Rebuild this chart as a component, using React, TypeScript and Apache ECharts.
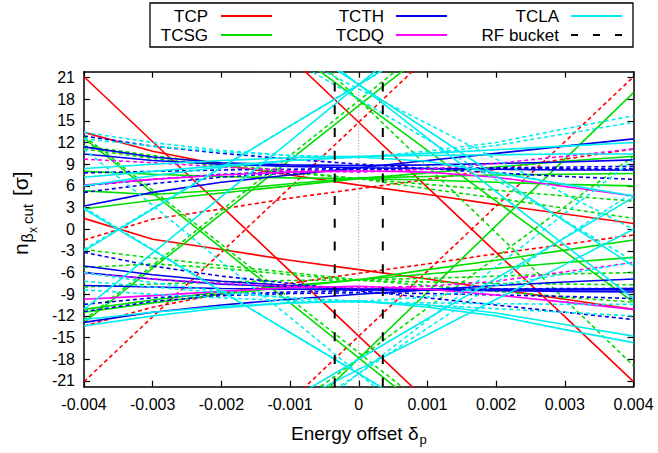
import React, { useEffect, useRef } from "react";
import * as echarts from "echarts";

const FONT = "'Liberation Sans', Arial, Helvetica, sans-serif";

const deltas = [-0.004, -0.003, -0.002, -0.001, 0, 0.001, 0.002, 0.003, 0.004];
const xTicks = [-0.004, -0.003, -0.002, -0.001, 0, 0.001, 0.002, 0.003, 0.004];
const yTicks = [-21, -18, -15, -12, -9, -6, -3, 0, 3, 6, 9, 12, 15, 18, 21];
const yRange = [-21.8, 21.8];
const rfBucket = [-0.00035, 0.00035];

// TCP (red)
const tcpBeam1 = [
  [21.1, 12.1, 3.2, -5.8, -14.8, -23.8, -32.8, -41.7, -50.7],
  [50.7, 41.7, 32.8, 23.8, 14.8, 5.8, -3.2, -12.1, -21.1],
  [13.4, 10.8, 8.9, 7.5, 6.1, 4.8, 3.4, 2.1, 0.8],
  [1.5, -1.4, -2.8, -4.3, -5.6, -6.9, -8.3, -9.7, -11.1],
];
const tcpBeam2 = [
  [-21.1, -12.1, -3.2, 5.8, 14.8, 23.8, 32.8, 41.7, 50.7],
  [-50.7, -41.7, -32.8, -23.8, -14.8, -5.8, 3.2, 12.1, 21.1],
  [-13.4, -10.8, -8.9, -7.5, -6.1, -4.8, -3.4, -2.1, -0.8],
  [-1.5, 1.4, 2.8, 4.3, 5.6, 6.9, 8.3, 9.7, 11.1],
];

// TCSG (green)
const tcsgBeam1 = [
  [12.6, 5.0, -2.6, -10.2, -17.8, -25.4, -33.0, -40.6, -48.2],
  [45.9, 38.9, 31.9, 24.9, 17.9, 10.9, 3.9, -3.1, -10.1],
  [-12.9, -5.4, 2.1, 9.6, 17.1, 24.6, 32.1, 39.6, 47.1],
  [-54.7, -45.5, -36.3, -27.1, -17.9, -8.7, 0.5, 9.7, 18.9],
  [2.8, 4.0, 5.0, 6.0, 7.0, 7.8, 8.6, 9.4, 10.1],
  [5.3, 4.8, 5.4, 6.3, 7.1, 7.3, 7.5, 7.6, 7.7],
  [8.0, 7.6, 7.3, 7.1, 7.0, 6.8, 6.5, 6.2, 6.0],
  [-11.5, -10.2, -9.0, -8.0, -7.0, -5.6, -4.3, -2.9, -1.5],
  [-11.1, -9.8, -8.7, -7.8, -7.0, -6.2, -5.4, -4.6, -3.9],
];
const tcsgBeam2 = [
  [-12.6, -5.0, 2.6, 10.2, 17.8, 25.4, 33.0, 40.6, 48.2],
  [-45.9, -38.9, -31.9, -24.9, -17.9, -10.9, -3.9, 3.1, 10.1],
  [12.9, 5.4, -2.1, -9.6, -17.1, -24.6, -32.1, -39.6, -47.1],
  [54.7, 45.5, 36.3, 27.1, 17.9, 8.7, -0.5, -9.7, -18.9],
  [-2.8, -4.0, -5.0, -6.0, -7.0, -7.8, -8.6, -9.4, -10.1],
  [-5.3, -4.8, -5.4, -6.3, -7.1, -7.3, -7.5, -7.6, -7.7],
  [-8.0, -7.6, -7.3, -7.1, -7.0, -6.8, -6.5, -6.2, -6.0],
  [11.5, 10.2, 9.0, 8.0, 7.0, 5.6, 4.3, 2.9, 1.5],
  [11.1, 9.8, 8.7, 7.8, 7.0, 6.2, 5.4, 4.6, 3.9],
];

// TCTH (blue)
const tcthBeam1 = [
  [3.2, 5.1, 6.5, 7.5, 8.5, 9.5, 10.5, 11.5, 12.5],
  [11.4, 10.0, 9.2, 8.9, 8.8, 8.9, 9.1, 9.3, 9.6],
  [10.4, 9.5, 9.0, 8.7, 8.5, 8.4, 8.3, 8.2, 8.2],
  [-5.1, -6.3, -7.2, -7.8, -8.3, -8.3, -8.4, -8.4, -8.4],
  [-12.9, -11.5, -10.5, -9.7, -9.0, -8.4, -7.8, -7.3, -6.9],
  [-6.0, -6.9, -7.6, -8.0, -8.3, -8.4, -8.5, -8.6, -8.7],
  [-7.8, -8.0, -8.2, -8.3, -8.4, -8.4, -8.3, -8.3, -8.2],
];
const tcthBeam2 = [
  [-3.2, -5.1, -6.5, -7.5, -8.5, -9.5, -10.5, -11.5, -12.5],
  [-11.4, -10.0, -9.2, -8.9, -8.8, -8.9, -9.1, -9.3, -9.6],
  [-10.4, -9.5, -9.0, -8.7, -8.5, -8.4, -8.3, -8.2, -8.2],
  [5.1, 6.3, 7.2, 7.8, 8.3, 8.3, 8.4, 8.4, 8.4],
  [12.9, 11.5, 10.5, 9.7, 9.0, 8.4, 7.8, 7.3, 6.9],
  [6.0, 6.9, 7.6, 8.0, 8.3, 8.4, 8.5, 8.6, 8.7],
  [7.8, 8.0, 8.2, 8.3, 8.4, 8.4, 8.3, 8.3, 8.2],
];

// TCDQ (magenta)
const tcdqBeam1 = [
  [6.1, 6.9, 7.5, 7.9, 8.1, 7.9, 7.2, 5.9, 4.6],
  [-9.7, -9.2, -8.6, -8.1, -7.9, -8.3, -9.1, -10.1, -11.1],
];
const tcdqBeam2 = [
  [-6.1, -6.9, -7.5, -7.9, -8.1, -7.9, -7.2, -5.9, -4.6],
  [9.7, 9.2, 8.6, 8.1, 7.9, 8.3, 9.1, 10.1, 11.1],
];

// TCLA (cyan)
const tclaBeam1 = [
  [-3.0, 2.8, 8.5, 14.3, 20.0, 25.8, 31.5, 37.3, 43.0],
  [-11.1, -3.3, 4.5, 12.2, 20.0, 27.8, 35.6, 43.3, 51.1],
  [45.2, 38.9, 32.6, 26.3, 20.0, 13.7, 7.4, 1.1, -5.1],
  [49.6, 42.2, 34.8, 27.4, 20.0, 12.6, 5.2, -2.2, -9.6],
  [2.8, -2.9, -8.6, -14.3, -20.0, -25.7, -31.4, -37.1, -42.8],
  [-38.8, -34.0, -29.1, -24.3, -19.4, -14.6, -9.7, -4.9, 0.0],
  [-40.4, -34.8, -29.2, -23.6, -18.0, -12.4, -6.8, -1.2, 4.4],
  [-13.4, -12.0, -10.9, -10.2, -9.9, -10.8, -12.0, -13.9, -15.7],
  [-12.5, -11.5, -10.7, -10.2, -10.0, -10.5, -11.6, -13.2, -14.8],
  [8.4, 9.0, 9.5, 9.9, 10.1, 10.2, 10.3, 10.4, 10.4],
  [7.2, 8.0, 8.8, 9.5, 10.0, 9.4, 7.8, 6.2, 4.6],
  [6.0, 7.4, 8.6, 9.5, 10.0, 10.5, 11.0, 11.5, 12.0],
];
const tclaBeam2 = [
  [3.0, -2.8, -8.5, -14.3, -20.0, -25.8, -31.5, -37.3, -43.0],
  [11.1, 3.3, -4.5, -12.2, -20.0, -27.8, -35.6, -43.3, -51.1],
  [-45.2, -38.9, -32.6, -26.3, -20.0, -13.7, -7.4, -1.1, 5.1],
  [-49.6, -42.2, -34.8, -27.4, -20.0, -12.6, -5.2, 2.2, 9.6],
  [-2.8, 2.9, 8.6, 14.3, 20.0, 25.7, 31.4, 37.1, 42.8],
  [38.8, 34.0, 29.1, 24.3, 19.4, 14.6, 9.7, 4.9, 0.0],
  [40.4, 34.8, 29.2, 23.6, 18.0, 12.4, 6.8, 1.2, -4.4],
  [13.4, 12.0, 10.9, 10.2, 9.9, 10.8, 12.0, 13.9, 15.7],
  [12.5, 11.5, 10.7, 10.2, 10.0, 10.5, 11.6, 13.2, 14.8],
  [-8.4, -9.0, -9.5, -9.9, -10.1, -10.2, -10.3, -10.4, -10.4],
  [-7.2, -8.0, -8.8, -9.5, -10.0, -9.4, -7.8, -6.2, -4.6],
  [-6.0, -7.4, -8.6, -9.5, -10.0, -10.5, -11.0, -11.5, -12.0],
];

const families = [
  { name: "TCP", color: "#ff0000", beam1: tcpBeam1, beam2: tcpBeam2 },
  { name: "TCSG", color: "#00dd00", beam1: tcsgBeam1, beam2: tcsgBeam2 },
  { name: "TCTH", color: "#0000ee", beam1: tcthBeam1, beam2: tcthBeam2 },
  { name: "TCDQ", color: "#ff00ff", beam1: tcdqBeam1, beam2: tcdqBeam2 },
  { name: "TCLA", color: "#00eeee", beam1: tclaBeam1, beam2: tclaBeam2 },
];

const legendRows = [
  [
    { label: "TCP", color: "#ff0000", dash: null },
    { label: "TCTH", color: "#0000ee", dash: null },
    { label: "TCLA", color: "#00eeee", dash: null },
  ],
  [
    { label: "TCSG", color: "#00dd00", dash: null },
    { label: "TCDQ", color: "#ff00ff", dash: null },
    { label: "RF bucket", color: "#000000", dash: [7, 15] },
  ],
];

function lineSeries(name: string, values: number[], color: string, dashed: boolean) {
  return {
    type: "line",
    name,
    data: deltas.map((d, i) => [d, values[i]]),
    showSymbol: false,
    symbol: "none",
    silent: true,
    clip: true,
    lineStyle: { color, width: 1.6, type: dashed ? [4, 3] : "solid" },
  };
}

export default function App() {
  const ref = useRef<HTMLDivElement>(null);
  useEffect(() => {
    if (!ref.current) return;
    const chart = echarts.init(ref.current, null, { renderer: "svg" });
    const series: any[] = [];
    families.forEach((f) => {
      f.beam1.forEach((v, i) => series.push(lineSeries(`${f.name} B1 ${i}`, v, f.color, false)));
      f.beam2.forEach((v, i) => series.push(lineSeries(`${f.name} B2 ${i}`, v, f.color, true)));
    });
    series.push({
      type: "line",
      data: [
        [0, yRange[0]],
        [0, yRange[1]],
      ],
      showSymbol: false,
      symbol: "none",
      silent: true,
      lineStyle: { color: "#888", width: 1, type: [1, 2] },
    });
    rfBucket.forEach((d) =>
      series.push({
        type: "line",
        data: [
          [d, yRange[0]],
          [d, yRange[1]],
        ],
        showSymbol: false,
        symbol: "none",
        silent: true,
        lineStyle: { color: "#000", width: 2, type: [9, 13.7] },
      })
    );

    const axisCommon = {
      type: "value",
      axisLine: { show: true, onZero: false, lineStyle: { color: "#000", width: 1.5 } },
      splitLine: { show: false },
    };

    const legendEls: any[] = [
      {
        type: "rect",
        shape: { x: 150, y: 3, width: 483, height: 44 },
        style: { fill: "rgba(0,0,0,0)", stroke: "#000", lineWidth: 1.3 },
      },
    ];
    const colText = [208, 384, 559];
    const colLine = [221, 396, 571];
    const rowY = [16, 35];
    legendRows.forEach((row, r) =>
      row.forEach((e, c) => {
        legendEls.push({
          type: "text",
          x: colText[c],
          y: rowY[r],
          style: {
            text: e.label,
            font: `17px ${FONT}`,
            fill: "#000",
            textAlign: "right",
            textVerticalAlign: "middle",
            align: "right",
            verticalAlign: "middle",
          },
        });
        legendEls.push({
          type: "line",
          shape: { x1: colLine[c], y1: rowY[r], x2: colLine[c] + 51, y2: rowY[r] },
          style: { stroke: e.color, lineWidth: e.dash ? 2 : 1.8, lineDash: e.dash || undefined },
        });
      })
    );

    const txt = (x: number, y: number, text: string, size: number, align = "left", valign = "middle") => ({
      type: "text",
      x,
      y,
      style: {
        text,
        font: `${size}px ${FONT}`,
        fill: "#000",
        textAlign: align,
        textVerticalAlign: valign,
        align,
        verticalAlign: valign,
      },
    });

    const yLabel = {
      type: "group",
      x: 31,
      y: 255,
      rotation: Math.PI / 2,
      children: [
        txt(0, 0, "n", 21, "left", "bottom"),
        txt(12.5, 4, "β", 16, "left", "bottom"),
        txt(22, 8, "x", 12, "left", "bottom"),
        txt(31, 4, "cut", 15, "left", "bottom"),
        txt(59, 0, "[σ]", 21, "left", "bottom"),
      ],
    };

    const xLabel = {
      type: "group",
      x: 291,
      y: 433,
      children: [txt(0, 0, "Energy offset δ", 19, "left", "middle"), txt(128.5, 6, "p", 13, "left", "middle")],
    };

    chart.setOption({
      animation: false,
      grid: { left: 84, right: 24.5, top: 71.7, bottom: 66.3, containLabel: false },
      xAxis: [
        {
          ...axisCommon,
          position: "bottom",
          min: xTicks[0],
          max: xTicks[xTicks.length - 1],
          interval: 0.001,
          axisTick: { show: true, inside: true, length: 6, lineStyle: { color: "#000", width: 1.2 } },
          axisLabel: {
            color: "#000",
            fontSize: 16,
            fontFamily: FONT,
            margin: 10,
            formatter: (v: number) => (Math.abs(v) < 1e-9 ? "0" : v.toFixed(3)),
          },
        },
        {
          ...axisCommon,
          position: "top",
          min: xTicks[0],
          max: xTicks[xTicks.length - 1],
          interval: 0.001,
          axisTick: { show: true, inside: true, length: 6, lineStyle: { color: "#000", width: 1.2 } },
          axisLabel: { show: false },
        },
      ],
      yAxis: [
        {
          ...axisCommon,
          position: "left",
          min: yRange[0],
          max: yRange[1],
          axisTick: {
            show: true,
            inside: true,
            length: 6,
            customValues: yTicks,
            lineStyle: { color: "#000", width: 1.2 },
          },
          axisLabel: {
            color: "#000",
            fontSize: 16,
            fontFamily: FONT,
            margin: 9,
            customValues: yTicks,
            formatter: (v: number) => String(Math.round(v)),
          },
        },
        {
          ...axisCommon,
          position: "right",
          min: yRange[0],
          max: yRange[1],
          axisTick: {
            show: true,
            inside: true,
            length: 6,
            customValues: yTicks,
            lineStyle: { color: "#000", width: 1.2 },
          },
          axisLabel: { show: false },
        },
      ],
      series,
      graphic: { elements: [...legendEls, yLabel, xLabel] },
    });
    return () => chart.dispose();
  }, []);
  return <div ref={ref} style={{ position: "fixed", left: 0, top: 0, width: 658, height: 453, background: "#fff" }} />;
}
